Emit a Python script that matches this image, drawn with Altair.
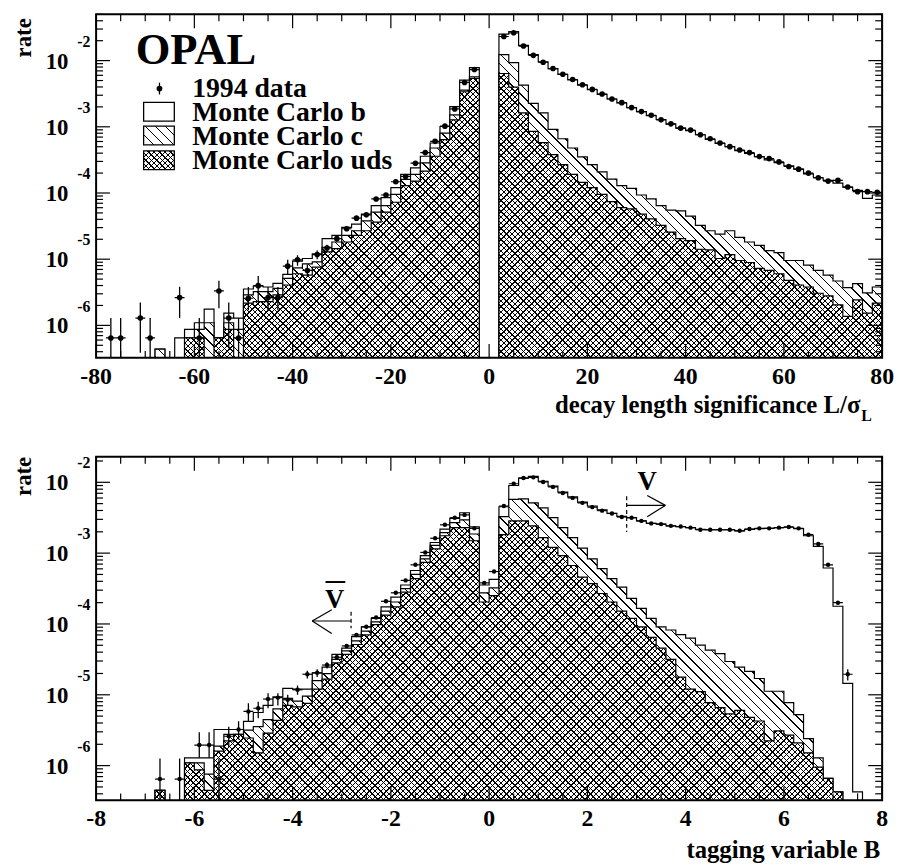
import math
import altair as alt
import pandas as pd

N = None
FONT = "Liberation Serif"
W, H = 794, 347
FLOOR = -6.62  # log10 level used for empty bins (just below the frame)

# ---------------- upper panel : decay length significance ----------------
top_centres = [-79 + 2 * i for i in range(80)]
top_ylim = (-6.49, -1.30)
# log10(rate) of the stacked Monte Carlo (b+c+uds), (c+uds), (uds) and of the data
top_total = [N, N, N, N, N, N, -6.36, N, -6.19, -6.06,
             -5.96, -5.755, -6.19, -5.815, -5.89, -5.45, -5.405, -5.42, -5.365, -5.23,
             -5.03, -4.99, -4.92, -4.69, -4.64, -4.52, -4.47, -4.32, -4.19, -4.07,
             -3.92, -3.72, -3.62, -3.445, -3.245, -2.995, -2.695, -2.295, -2.105, N,
             N, -1.60, -1.56, -1.77, -1.91, -2.02, -2.12, -2.21, -2.29, -2.37,
             -2.44, -2.51, -2.58, -2.64, -2.71, -2.77, -2.83, -2.89, -2.96, -3.02,
             -3.06, -3.12, -3.19, -3.25, -3.30, -3.36, -3.40, -3.45, -3.50, -3.54,
             -3.59, -3.64, -3.71, -3.77, -3.81, -3.85, -3.91, -3.96, -4.08, -4.03]
top_cuds = [N, N, N, N, N, N, -6.36, N, N, -6.19,
            -6.06, -5.96, -6.19, -5.96, -6.06, -5.54, -5.49, -5.49, -5.44, -5.29,
            -5.13, -5.07, -5.04, -4.82, -4.74, -4.64, -4.57, -4.42, -4.29, -4.19,
            -4.02, -3.795, -3.72, -3.545, -3.32, -3.095, -2.82, -2.445, -2.245, N,
            N, -1.91, -2.03, -2.37, -2.645, -2.79, -3.04, -3.18, -3.32, -3.455,
            -3.57, -3.68, -3.79, -3.89, -3.93, -4.03, -4.09, -4.19, -4.26, -4.27,
            -4.35, -4.49, -4.57, -4.62, -4.57, -4.67, -4.74, -4.79, -4.87, -4.90,
            -5.02, -5.02, -5.09, -5.17, -5.24, -5.33, -5.43, -5.37, -5.51, -5.42]
top_uds = [N, N, N, N, N, N, N, N, N, -6.19,
           -6.19, N, -6.19, -6.06, N, -5.665, -5.64, -5.64, -5.54, -5.39,
           -5.22, -5.24, -5.12, -4.89, -4.84, -4.74, -4.64, -4.57, -4.44, -4.29,
           -4.14, -3.89, -3.82, -3.67, -3.445, -3.195, -2.895, -2.47, -2.27, N,
           N, -2.195, -2.40, -2.79, -3.07, -3.24, -3.42, -3.57, -3.72, -3.84,
           -3.92, -4.02, -4.13, -4.22, -4.24, -4.32, -4.39, -4.49, -4.59, -4.69,
           -4.72, -4.85, -4.86, -4.99, -4.93, -5.02, -5.05, -5.14, -5.17, -5.22,
           -5.32, -5.39, -5.42, -5.515, -5.555, -5.69, -5.865, -5.615, -5.815, -5.665]
top_data = [N, -6.19, -6.19, N, -5.89, -6.19, N, N, -5.58, N,
            -6.19, N, -5.48, -5.89, -6.19, -5.59, -5.40, -5.58, -5.58, -5.105,
            -5.01, -5.17, -4.93, -4.83, -4.69, -4.54, -4.38, -4.33, -4.09, -4.03,
            -3.83, -3.75, -3.55, -3.39, -3.22, -2.99, -2.73, -2.33, -2.135, N,
            N, -1.636, -1.58, -1.78, -1.92, -2.025, -2.12, -2.205, -2.285, -2.365,
            -2.435, -2.505, -2.58, -2.635, -2.71, -2.77, -2.825, -2.895, -2.955, -3.02,
            -3.05, -3.12, -3.18, -3.245, -3.30, -3.35, -3.39, -3.45, -3.48, -3.53,
            -3.60, -3.64, -3.70, -3.77, -3.82, -3.81, -3.91, -3.98, -3.98, -3.99]
top_err_hi = [N, -5.89, -5.89, N, -5.655, -5.89, N, N, -5.416, N,
              -5.89, N, -5.326, -5.655, -5.89, -5.42, -5.255, -5.42, -5.42, -5.01,
              -4.94, -5.08, -4.87, -4.78, -4.65, -4.51, -4.36, -4.31, -4.075, -4.015] + [N] * 50
top_err_lo = [N, -7, -7, N, -6.415, -7, N, N, -5.89, N,
              -7, N, -5.74, -6.35, -7, -5.77, -5.64, -5.77, -5.77, -5.24,
              -5.10, -5.27, -5.0, -4.89, -4.735, -4.57, -4.40, -4.35, -4.105, -4.045] + [N] * 50
top_xticks = [-80, -60, -40, -20, 0, 20, 40, 60, 80]
top_xminor = [v for v in range(-80, 81, 5) if v % 20]

# ---------------- lower panel : tagging variable B ----------------
bot_centres = [round(-7.9 + 0.2 * i, 1) for i in range(80)]
bot_ylim = (-6.49, -1.64)
bot_total = [N, N, N, N, N, N, -6.35, N, N, -5.89,
             -5.89, -5.89, -5.49, -5.49, -5.49, -5.375, -5.25, -5.15, -5.03, -4.91,
             -4.92, -4.92, -4.69, -4.61, -4.43, -4.34, -4.18, -4.04, -3.92, -3.76,
             -3.62, -3.45, -3.245, -3.035, -2.85, -2.66, -2.51, -2.43, -2.63, -3.45,
             -3.37, -2.345, -2.045, -1.94, -1.915, -1.985, -2.055, -2.14, -2.205, -2.28,
             -2.335, -2.39, -2.44, -2.48, -2.50, -2.545, -2.58, -2.59, -2.615, -2.625,
             -2.64, -2.665, -2.67, -2.67, -2.67, -2.685, -2.665, -2.655, -2.65, -2.64,
             -2.635, -2.655, -2.755, -2.905, -3.21, -3.75, -4.84, -6.37, N, N]
bot_cuds = [N, N, N, N, N, N, -6.35, N, N, -5.96,
            -5.96, -6.12, -5.725, -5.56, -5.56, -5.50, -5.45, -5.35, -5.20, -5.05,
            -5.09, -5.02, -4.80, -4.70, -4.50, -4.38, -4.24, -4.10, -3.97, -3.82,
            -3.69, -3.50, -3.30, -3.08, -2.89, -2.71, -2.57, -2.53, -2.73, -3.56,
            -3.49, -2.485, -2.24, -2.235, -2.29, -2.36, -2.50, -2.64, -2.78, -2.93,
            -3.08, -3.22, -3.36, -3.48, -3.64, -3.78, -3.92, -4.04, -4.085, -4.15,
            -4.20, -4.30, -4.37, -4.42, -4.53, -4.61, -4.67, -4.77, -4.95, -4.95,
            -5.11, -5.28, -5.62, -5.89, -6.18, -6.37, N, N, N, N]
bot_uds = [N, N, N, N, N, N, -6.35, N, N, -5.96,
           -6.06, -6.35, -5.795, -5.65, -5.56, -5.61, -5.82, -5.54, -5.36, -5.15,
           -5.17, -5.12, -4.92, -4.78, -4.55, -4.43, -4.29, -4.155, -4.01, -3.875,
           -3.76, -3.55, -3.36, -3.13, -2.94, -2.755, -2.64, -2.64, -2.825, -3.69,
           -3.60, -2.74, -2.545, -2.545, -2.615, -2.78, -2.92, -3.035, -3.175, -3.34,
           -3.43, -3.57, -3.69, -3.82, -3.92, -4.04, -4.19, -4.34, -4.50, -4.75,
           -4.92, -4.955, -5.11, -5.18, -5.27, -5.22, -5.32, -5.37, -5.65, -5.51,
           -5.57, -5.68, -5.82, -6.02, -6.18, -6.37, N, N, N, N]
bot_data = [N, N, N, N, N, N, -6.19, N, -6.19, N,
            -5.71, -5.71, -6.19, -5.585, -5.49, -5.235, -5.19, -5.06, -5.04, -5.07,
            -4.93, -4.71, -4.69, -4.58, -4.47, -4.31, -4.155, -4.04, -3.91, -3.68,
            -3.56, -3.385, -3.165, -2.99, -2.79, -2.60, -2.50, -2.46, -2.65, -3.42,
            -3.26, -2.335, -2.02, -1.94, -1.93, -1.995, -2.065, -2.15, -2.22, -2.29,
            -2.35, -2.40, -2.44, -2.49, -2.50, -2.545, -2.58, -2.59, -2.615, -2.625,
            -2.64, -2.67, -2.67, -2.67, -2.67, -2.685, -2.66, -2.65, -2.65, -2.64,
            -2.63, -2.65, -2.74, -2.87, -3.165, -3.70, -4.71, N, N, N]
bot_err_hi = ([N, N, N, N, N, N, -5.90, N, -5.90, N,
               -5.53, -5.53, -5.90, -5.45, -5.375, -5.12, -5.10, -4.98, -4.98, -5.00,
               -4.87, -4.66, -4.64, -4.54, -4.44, -4.285, -4.135, N, N, N]
              + [N] * 40 + [N, N, N, N, N, N, -4.64, N, N, N])
bot_err_lo = ([N, N, N, N, N, N, -7, N, -7, N,
               -5.89, -5.89, -7, -5.74, -5.63, -5.375, -5.33, -5.19, -5.15, -5.15,
               -5.0, -4.77, -4.75, -4.63, -4.50, -4.34, -4.175, N, N, N]
              + [N] * 40 + [N, N, N, N, N, N, -4.80, N, N, N])
bot_xticks = [-8, -6, -4, -2, 0, 2, 4, 6, 8]
bot_xminor = [v / 2 for v in range(-16, 17) if v % 4]

decades = [-2, -3, -4, -5, -6]

# V / V-bar cut annotations of the lower panel (x in B units, y in log10 rate)
arrow_x1 = [2.80, 3.218, 3.218, -2.81, -3.204, -3.204]
arrow_y1 = [-2.326, -2.186, -2.485, -3.958, -3.80, -4.136]
arrow_x2 = [3.587, 3.587, 3.587, -3.601, -3.601, -3.601]
arrow_y2 = [-2.326, -2.326, -2.326, -3.958, -3.958, -3.958]
cut_x = [2.80, -2.81]
cut_y1 = [-2.196, -3.828]
cut_y2 = [-2.70, -4.06]
vlab_x = [3.218, -3.143]
vlab_y = [-2.102, -3.78]
vbar_x = [-3.331]
vbar_x2 = [-2.928]
vbar_y = [-3.408]

for arr in (top_total, top_cuds, top_uds, top_data, top_err_hi, top_err_lo,
            bot_total, bot_cuds, bot_uds, bot_data, bot_err_hi, bot_err_lo):
    assert len(arr) == 80


def hatch(direction, spacing, wb, hb, bg, line="black", lw=1.0):
    """Striped linear gradient giving 45 degree hatch lines in a wb x hb box."""
    r = hb / wb
    k = (1 + r) / (1 + r * r)
    n = max(1, int(round((wb + hb) / (math.sqrt(2) * spacing))))
    f = lw / spacing
    stops = []
    for i in range(n):
        a = round(i / n, 6)
        b = round(min(1.0, (i + f) / n), 6)
        c = round(min(1.0, (i + 1) / n), 6)
        stops += [alt.GradientStop(color=line, offset=a),
                  alt.GradientStop(color=line, offset=b),
                  alt.GradientStop(color=bg, offset=b),
                  alt.GradientStop(color=bg, offset=c)]
    if direction == "/":
        return alt.LinearGradient(gradient="linear", stops=stops,
                                  x1=0, y1=0, x2=k, y2=k * r)
    return alt.LinearGradient(gradient="linear", stops=stops,
                              x1=0, y1=1, x2=k, y2=1 - k * r)


def one():
    return pd.DataFrame({"d": [0]})


def txt(s, x, y, size, align="left", baseline="alphabetic", angle=0):
    kw = dict(text=s, font=FONT, fontWeight="bold", fontSize=size, align=align,
              baseline=baseline, color="black")
    if angle:
        kw["angle"] = angle
    return alt.Chart(one()).mark_text(**kw).encode(x=alt.value(x), y=alt.value(y))


def panel(centres, wb, xdom, ylim, total, cuds, uds, data, ehi, elo,
          xticks, xminor, msize):
    lo, hi = ylim
    ppd = H / (hi - lo)

    def ypx(v):
        return (hi - v) * ppd

    X = lambda f="x": alt.X(f"{f}:Q", scale=alt.Scale(domain=xdom, nice=False, zero=False), axis=None)
    Y = lambda f="rate": alt.Y(f"{f}:Q", scale=alt.Scale(type="log", domain=[10 ** lo, 10 ** hi], nice=False), axis=None)

    def step(vals):
        xs = [c - wb / 2 for c in centres] + [centres[-1] + wb / 2]
        vs = [FLOOR if v is None else v for v in vals]
        vs = vs + [vs[-1]]
        return pd.DataFrame({"x": xs, "rate": [10 ** v for v in vs],
                             "base": [10 ** FLOOR] * len(xs)})

    def bh(vals):
        return ypx(FLOOR) - ypx(max(v for v in vals if v is not None))

    akw = dict(interpolate="step-after", clip=True)
    enc = dict(x=X(), y=Y(), y2=alt.Y2("base:Q"))
    layers = [
        alt.Chart(step(total)).mark_area(fill="white", stroke="black", strokeWidth=1.2, **akw).encode(**enc),
        alt.Chart(step(cuds)).mark_area(fill=hatch("\\", 7.0, W, bh(cuds), "white"), stroke="black",
                                        strokeWidth=1.2, **akw).encode(**enc),
        alt.Chart(step(uds)).mark_area(fill=hatch("\\", 4.0, W, bh(uds), "white"), **akw).encode(**enc),
        alt.Chart(step(uds)).mark_area(fill=hatch("/", 4.0, W, bh(uds), "rgba(0,0,0,0)"), stroke="black",
                                       strokeWidth=1.2, **akw).encode(**enc),
    ]
    pts = pd.DataFrame({"x": centres, "v": data, "h": ehi, "l": elo})
    pts = pts[pts["v"].notna()].copy()
    pts["rate"] = 10 ** pts["v"].astype(float)
    pts["x0"] = pts["x"] - wb / 2
    pts["x1"] = pts["x"] + wb / 2
    errs = pts[pts["h"].notna()].copy()
    errs["hi"] = 10 ** errs["h"].astype(float)
    errs["lo"] = 10 ** errs["l"].astype(float)
    layers += [
        alt.Chart(errs).mark_rule(color="black", strokeWidth=1.3, clip=True).encode(
            x=X(), y=Y("lo"), y2=alt.Y2("hi:Q")),
        alt.Chart(pts).mark_rule(color="black", strokeWidth=1.2, clip=True).encode(
            x=X("x0"), x2=alt.X2("x1:Q"), y=Y()),
        alt.Chart(pts).mark_circle(color="black", opacity=1, size=msize, clip=True).encode(x=X(), y=Y()),
    ]
    # ticks on all four sides
    maj = pd.DataFrame({"x": xticks, "lab": [str(v) for v in xticks]})
    mnr = pd.DataFrame({"x": xminor})
    rk = dict(color="black", strokeWidth=1.2)
    for df, ln in ((maj, 14), (mnr, 7)):
        layers.append(alt.Chart(df).mark_rule(**rk).encode(x=X(), y=alt.value(H), y2=alt.value(H - ln)))
        layers.append(alt.Chart(df).mark_rule(**rk).encode(x=X(), y=alt.value(0), y2=alt.value(ln)))
    ymaj = pd.DataFrame({"rate": [10.0 ** d for d in decades], "e": [str(d) for d in decades]})
    ymin_vals = [k * 10.0 ** d for d in range(-7, 0) for k in range(2, 10)
                 if lo <= math.log10(k * 10.0 ** d) <= hi]
    ymnr = pd.DataFrame({"rate": ymin_vals})
    for df, ln in ((ymaj, 14), (ymnr, 7)):
        layers.append(alt.Chart(df).mark_rule(**rk).encode(y=Y(), x=alt.value(0), x2=alt.value(ln)))
        layers.append(alt.Chart(df).mark_rule(**rk).encode(y=Y(), x=alt.value(W), x2=alt.value(W - ln)))
    layers.append(alt.Chart(one()).mark_rect(fillOpacity=0, stroke="black", strokeWidth=2).encode(
        x=alt.value(0), x2=alt.value(W), y=alt.value(0), y2=alt.value(H)))
    # tick labels
    layers.append(alt.Chart(maj).mark_text(font=FONT, fontWeight="bold", fontSize=24, baseline="alphabetic",
                                           align="center", color="black").encode(
        x=X(), y=alt.value(H + 26), text="lab:N"))
    layers.append(alt.Chart(ymaj).mark_text(text="10", font=FONT, fontWeight="bold", fontSize=23,
                                            align="right", baseline="alphabetic", dy=8, color="black").encode(
        y=Y(), x=alt.value(-28)))
    layers.append(alt.Chart(ymaj).mark_text(font=FONT, fontWeight="bold", fontSize=16,
                                            align="left", baseline="alphabetic", dy=-14, color="black").encode(
        y=Y(), x=alt.value(-19), text="e:N"))
    return layers, X, Y


# ---------------- build upper panel ----------------
top_layers, tX, tY = panel(top_centres, 2, [-80, 80], top_ylim, top_total, top_cuds, top_uds,
                           top_data, top_err_hi, top_err_lo, top_xticks, top_xminor, 32)
legend_labels = ["1994 data", "Monte Carlo b", "Monte Carlo c", "Monte Carlo uds"]
legend_y = [83.3, 107.7, 131.7, 156.7]
leg = pd.DataFrame({"lab": legend_labels, "py": legend_y})
top_layers += [
    txt("rate", -66, 4, 23, align="right", angle=270),
    txt("OPAL", 40, 50, 45),
    alt.Chart(leg).mark_text(font=FONT, fontWeight="bold", fontSize=28, align="left",
                             baseline="alphabetic", color="black").encode(
        x=alt.value(97), y=alt.Y("py:Q", scale=None), text="lab:N"),
    alt.Chart(one()).mark_circle(color="black", opacity=1, size=34).encode(x=alt.value(64), y=alt.value(75)),
    alt.Chart(one()).mark_rule(color="black", strokeWidth=1.3).encode(
        x=alt.value(64), y=alt.value(69), y2=alt.value(81)),
    alt.Chart(one()).mark_rect(fill="white", stroke="black", strokeWidth=1.3).encode(
        x=alt.value(48), x2=alt.value(79), y=alt.value(89), y2=alt.value(108)),
    alt.Chart(one()).mark_rect(fill=hatch("\\", 7.5, 31, 19, "white"), stroke="black", strokeWidth=1.3).encode(
        x=alt.value(48), x2=alt.value(79), y=alt.value(113), y2=alt.value(132)),
    alt.Chart(one()).mark_rect(fill=hatch("\\", 4.0, 31, 19, "white")).encode(
        x=alt.value(48), x2=alt.value(79), y=alt.value(138), y2=alt.value(157)),
    alt.Chart(one()).mark_rect(fill=hatch("/", 4.0, 31, 19, "rgba(0,0,0,0)"), stroke="black",
                               strokeWidth=1.3).encode(
        x=alt.value(48), x2=alt.value(79), y=alt.value(138), y2=alt.value(157)),
    txt("decay length significance L/\u03c3", 772, 403, 25, align="right"),
    txt("L", 773, 411, 16),
]
top = alt.layer(*top_layers).properties(width=W, height=H)

# ---------------- build lower panel ----------------
bot_layers, bX, bY = panel(bot_centres, 0.2, [-8, 8], bot_ylim, bot_total, bot_cuds, bot_uds,
                           bot_data, bot_err_hi, bot_err_lo, bot_xticks, bot_xminor, 20)
arr = pd.DataFrame({"x": arrow_x1, "y": [10 ** v for v in arrow_y1],
                    "x2": arrow_x2, "y2": [10 ** v for v in arrow_y2]})
cut = pd.DataFrame({"x": cut_x, "y": [10 ** v for v in cut_y1], "y2": [10 ** v for v in cut_y2]})
vl = pd.DataFrame({"x": vlab_x, "rate": [10 ** v for v in vlab_y]})
vb = pd.DataFrame({"x": vbar_x, "x2": vbar_x2, "y": [10 ** v for v in vbar_y]})
bot_layers += [
    alt.Chart(arr).mark_rule(color="black", strokeWidth=1.2).encode(
        x=bX(), y=bY("y"), x2=alt.X2("x2:Q"), y2=alt.Y2("y2:Q")),
    alt.Chart(cut).mark_rule(color="black", strokeWidth=1.2, strokeDash=[4, 3]).encode(
        x=bX(), y=bY("y"), y2=alt.Y2("y2:Q")),
    alt.Chart(vl).mark_text(text="V", font=FONT, fontWeight="bold", fontSize=27, align="center",
                            baseline="alphabetic", color="black").encode(x=bX(), y=bY()),
    alt.Chart(vb).mark_rule(color="black", strokeWidth=2).encode(x=bX(), x2=alt.X2("x2:Q"), y=bY("y")),
    txt("rate", -66, 0, 23, align="right", angle=270),
    txt("tagging variable B", 792, 405, 25, align="right"),
]
bottom = alt.layer(*bot_layers).properties(width=W, height=H)

chart = alt.vconcat(top, bottom, spacing=31).properties(
    padding={"left": 5, "top": 1, "right": 2, "bottom": 0}
).configure_view(strokeWidth=0)

chart.save("out.html", embed_options={"renderer": "svg", "actions": False})
